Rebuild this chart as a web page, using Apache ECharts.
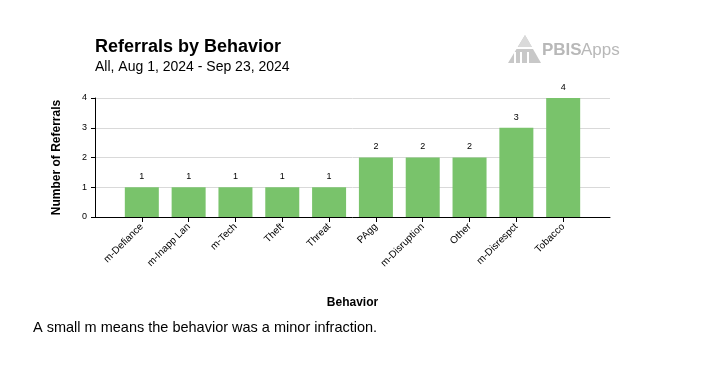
<!DOCTYPE html>
<html><head><meta charset="utf-8">
<script src="https://cdn.jsdelivr.net/npm/echarts@6/dist/echarts.min.js"></script>
<style>html,body{margin:0;padding:0;background:#fff}#c{width:726px;height:373px}</style>
</head><body><div id="c"></div>
<script>
const categories = ['m-Defiance','m-Inapp Lan','m-Tech','Theft','Threat','PAgg','m-Disruption','Other','m-Disrespct','Tobacco'];
const values = [1,1,1,1,1,2,2,2,3,4];
const yTicks = [0,1,2,3,4];

const cats = [''].concat(categories, ['']);
const vals = [null].concat(values, [null]);
const FONT = '"Liberation Sans", Arial, sans-serif';
const chart = echarts.init(document.getElementById('c'));
chart.setOption({
  animation: false,
  textStyle: {fontFamily: FONT},
  grid: {left: 95, right: 116, top: 98, bottom: 156, containLabel: false},
  xAxis: {
    type: 'category', data: cats, boundaryGap: false,
    name: 'Behavior', nameLocation: 'middle', nameGap: 80,
    nameTextStyle: {fontWeight: 'bold', fontSize: 12, color: '#000', fontFamily: FONT},
    axisLine: {lineStyle: {color: '#000', width: 1}},
    axisTick: {length: 5, lineStyle: {color: '#000'}, interval: (i) => i > 0 && i < cats.length - 1},
    axisLabel: {rotate: 45, fontSize: 10, color: '#000', margin: 8, interval: (i) => i > 0 && i < cats.length - 1, fontFamily: FONT},
    splitLine: {show: false}
  },
  yAxis: {
    type: 'value', min: 0, max: 4, interval: 1,
    name: 'Number of Referrals', nameLocation: 'middle', nameGap: 32, nameRotate: 90,
    nameTextStyle: {fontWeight: 'bold', fontSize: 12, color: '#000', fontFamily: FONT},
    axisLine: {show: true, lineStyle: {color: '#000', width: 1}},
    axisTick: {show: true, length: 4, lineStyle: {color: '#000'}},
    axisLabel: {fontSize: 9, color: '#000', margin: 8, fontFamily: FONT, formatter: (v) => yTicks.includes(v) ? String(v) : ''},
    splitLine: {lineStyle: {color: '#d9d9d9', width: 1}}
  },
  series: [{
    type: 'bar', data: vals, barWidth: 34,
    itemStyle: {color: '#79c36b'},
    label: {show: true, position: 'top', distance: 6, fontSize: 9, color: '#000', fontFamily: FONT}
  }],
  graphic: [
    {type: 'text', left: 95, top: 38, style: {text: 'Referrals by Behavior', font: 'bold 18px ' + FONT, fill: '#000'}},
    {type: 'text', left: 95, top: 60, style: {text: 'All, Aug 1, 2024 - Sep 23, 2024', font: '14px ' + FONT, fill: '#000'}},
    {type: 'text', left: 33, top: 320, style: {text: 'A small m means the behavior was a minor infraction.', font: '14.5px ' + FONT, fill: '#000'}},
    {type: 'polygon', shape: {points: [[525,35],[508,63],[541,63]]}, style: {fill: '#c8c8c8'}},
    {type: 'polygon', shape: {points: [[525,35],[518,47],[532,47]]}, style: {fill: '#dadada'}},
    {type: 'rect', shape: {x: 506, y: 47, width: 37, height: 2}, style: {fill: '#fff'}},
    {type: 'rect', shape: {x: 514, y: 52, width: 2, height: 12}, style: {fill: '#fff'}},
    {type: 'rect', shape: {x: 520, y: 52, width: 2, height: 12}, style: {fill: '#fff'}},
    {type: 'rect', shape: {x: 527, y: 52, width: 2, height: 12}, style: {fill: '#fff'}},
    {type: 'text', left: 542, top: 42, style: {text: 'PBIS', font: 'bold 17px ' + FONT, fill: '#b8b8b8'}},
    {type: 'text', left: 581, top: 42, style: {text: 'Apps', font: '17px ' + FONT, fill: '#b8b8b8'}}
  ]
});
</script></body></html>
